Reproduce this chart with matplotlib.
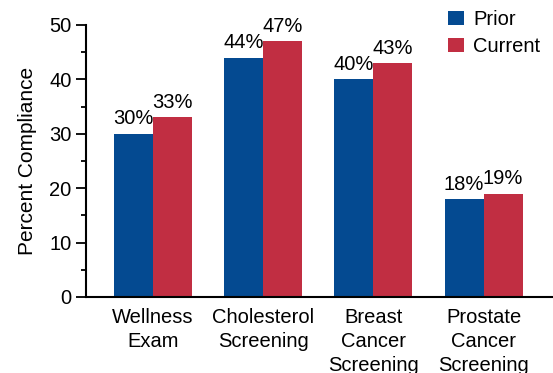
import numpy as np
from matplotlib import pyplot as plt
from matplotlib.ticker import MultipleLocator

categories = ["Wellness\nExam", "Cholesterol\nScreening", "Breast\nCancer\nScreening", "Prostate\nCancer\nScreening"]
prior = [30, 44, 40, 18]
current = [33, 47, 43, 19]

plt.rcParams['font.family'] = ['Liberation Sans', 'DejaVu Sans']

fig = plt.figure(figsize=(5.53, 3.73), dpi=100)
ax = fig.add_axes([86/553, 1-297/373, 466/553, 272/373])

x = np.arange(len(categories))
w = 0.354
b1 = ax.bar(x - w/2, prior, w, color='#044A91', label='Prior')
b2 = ax.bar(x + w/2, current, w, color='#C12E42', label='Current')

for bars, vals in ((b1, prior), (b2, current)):
    for r, v in zip(bars, vals):
        ax.text(r.get_x() + r.get_width()/2, v + 1.0, f"{v}%", ha='center', va='bottom', fontsize=14.5)

ax.set_ylim(0, 50)
ax.set_xlim(-0.607, 3.62)
ax.yaxis.set_major_locator(MultipleLocator(10))
ax.yaxis.set_minor_locator(MultipleLocator(5))
ax.set_xticks(x)
ax.set_xticklabels(categories, fontsize=14.5, linespacing=1.33)
ax.tick_params(axis='x', length=0, pad=8)
ax.tick_params(axis='y', which='major', length=7, width=1.3, labelsize=14.5, direction='out')
ax.tick_params(axis='y', which='minor', length=3.6, width=1.3, direction='out')
for s in ['top', 'right']:
    ax.spines[s].set_visible(False)
for s in ['left', 'bottom']:
    ax.spines[s].set_linewidth(1.5)
ax.set_ylabel("Percent Compliance", fontsize=15, labelpad=9)

ax.legend(loc='upper left', bbox_to_anchor=(442/553, 1 - 4/373), bbox_transform=fig.transFigure,
          frameon=False, fontsize=14.5, handlelength=0.8, handleheight=0.75,
          handletextpad=0.45, labelspacing=0.4, borderpad=0.3, borderaxespad=0)

fig.savefig("out.png", dpi=100)
